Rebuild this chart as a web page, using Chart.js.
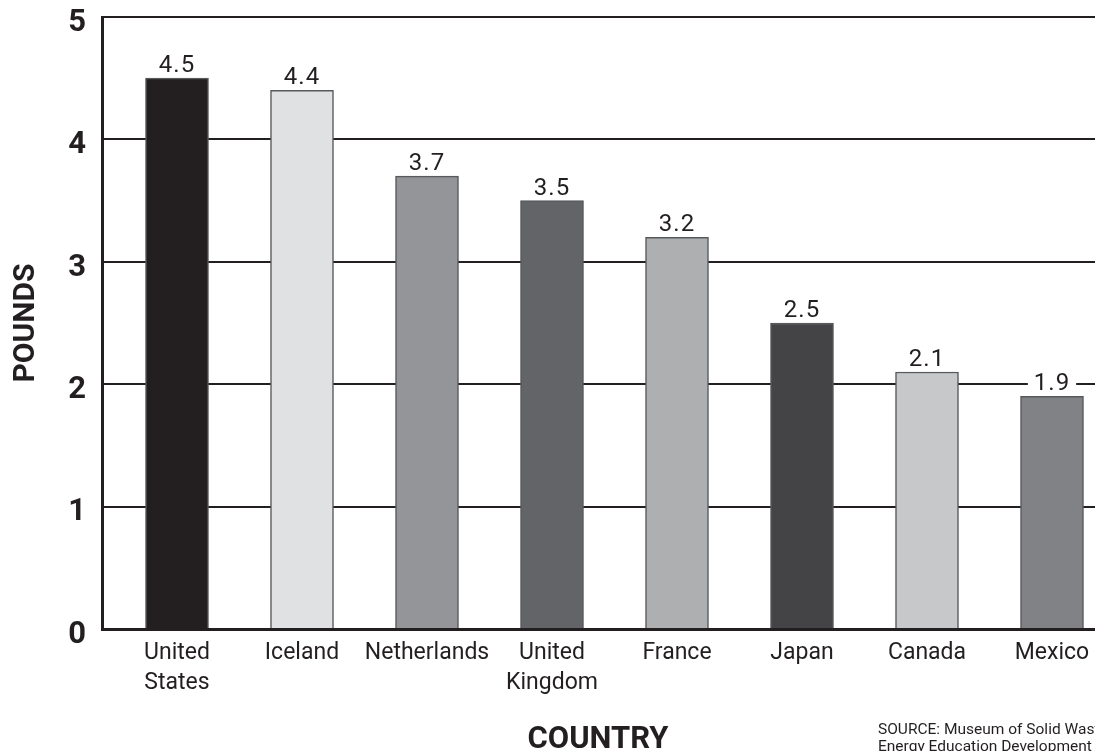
<!DOCTYPE html>
<html>
<head>
<meta charset="utf-8">
<script src="https://cdn.jsdelivr.net/npm/chart.js@4"></script>
<style>
  html, body { margin: 0; padding: 0; background: #fff; overflow: hidden; }
  #wrap { width: 1127px; height: 751px; }
</style>
</head>
<body>
<div id="wrap"><canvas id="chart"></canvas></div>
<script>
const countries = ['United States', 'Iceland', 'Netherlands', 'United Kingdom', 'France', 'Japan', 'Canada', 'Mexico']
const pounds = [4.5, 4.4, 3.7, 3.5, 3.2, 2.5, 2.1, 1.9]
const barColors = ['#231f20', '#e0e1e3', '#939598', '#636467', '#adafb1', '#444446', '#c6c8ca', '#808285']
const xTitle = 'COUNTRY'
const sourceLines = ['SOURCE: Museum of Solid Waste and', 'Energy Education Development']

const ink = '#231f20'
const font = 'Roboto, "DejaVu Sans", sans-serif'

const valueLabels = {
    id: 'valueLabels',
    afterDatasetsDraw(chart) {
        const ctx = chart.ctx
        const meta = chart.getDatasetMeta(0)
        ctx.save()
        ctx.font = '24px ' + font
        ctx.letterSpacing = '1px'
        ctx.textAlign = 'center'
        ctx.textBaseline = 'alphabetic'
        meta.data.forEach((bar, i) => {
            const text = pounds[i].toFixed(1)
            const w = ctx.measureText(text).width
            const y = bar.y - 6
            ctx.fillStyle = '#fff'
            ctx.fillRect(bar.x - w / 2 - 6, y - 21, w + 12, 24)
            ctx.fillStyle = ink
            ctx.fillText(text, bar.x, y)
        })
        ctx.restore()
    }
}

// axis title under the labels and the source note in the bottom right corner
const footer = {
    id: 'footer',
    afterDraw(chart) {
        const ctx = chart.ctx
        ctx.save()
        ctx.fillStyle = ink
        ctx.font = 'bold 31px ' + font
        ctx.textAlign = 'center'
        ctx.fillText(xTitle, 598, 748)
        ctx.font = '15.5px ' + font
        ctx.textAlign = 'left'
        sourceLines.forEach((line, i) => ctx.fillText(line, 878, 734 + i * 17))
        ctx.restore()
    }
}

let chart = new Chart(document.querySelector('#chart'), {
    type: 'bar',
    data: {
        datasets: [{
            data: pounds.map((v, i) => ({x: i, y: v})),
            backgroundColor: barColors,
            borderColor: '#58595b',
            borderWidth: 1.5,
            barThickness: 63
        }]
    },
    options: {
        responsive: true,
        maintainAspectRatio: false,
        animation: false,
        layout: {padding: {top: 17, right: 0, bottom: 0, left: 0}},
        plugins: {legend: {display: false}, tooltip: {enabled: false}},
        scales: {
            x: {
                type: 'linear',
                offset: false,
                min: -0.6,
                max: 7.6,
                afterBuildTicks: (scale) => { scale.ticks = countries.map((_, i) => ({value: i})) },
                afterFit: (scale) => {
                    scale.height = 122
                    scale.paddingLeft = 0
                    scale.paddingRight = 0
                },
                ticks: {
                    autoSkip: false,
                    maxRotation: 0,
                    padding: 9,
                    color: ink,
                    font: {family: font, size: 23, lineHeight: 1.3},
                    callback: (value) => {
                        const name = countries[value]
                        return name && name.includes(' ') ? name.split(' ') : name
                    }
                },
                grid: {display: false, drawTicks: false},
                border: {color: ink, width: 3}
            },
            y: {
                min: 0,
                max: 5,
                afterFit: (scale) => {
                    scale.width = 102
                    scale.paddingTop = 0
                    scale.paddingBottom = 0
                },
                ticks: {
                    stepSize: 1,
                    padding: 16,
                    labelOffset: 6,
                    color: ink,
                    font: {family: font, size: 31, weight: 'bold'}
                },
                grid: {color: ink, lineWidth: 2, drawTicks: false},
                border: {color: ink, width: 3},
                title: {
                    display: true,
                    text: 'POUNDS',
                    color: ink,
                    font: {family: font, size: 30, weight: 'bold'},
                    padding: {top: 8, bottom: 0}
                }
            }
        }
    },
    plugins: [valueLabels, footer]
})
</script>
</body>
</html>
